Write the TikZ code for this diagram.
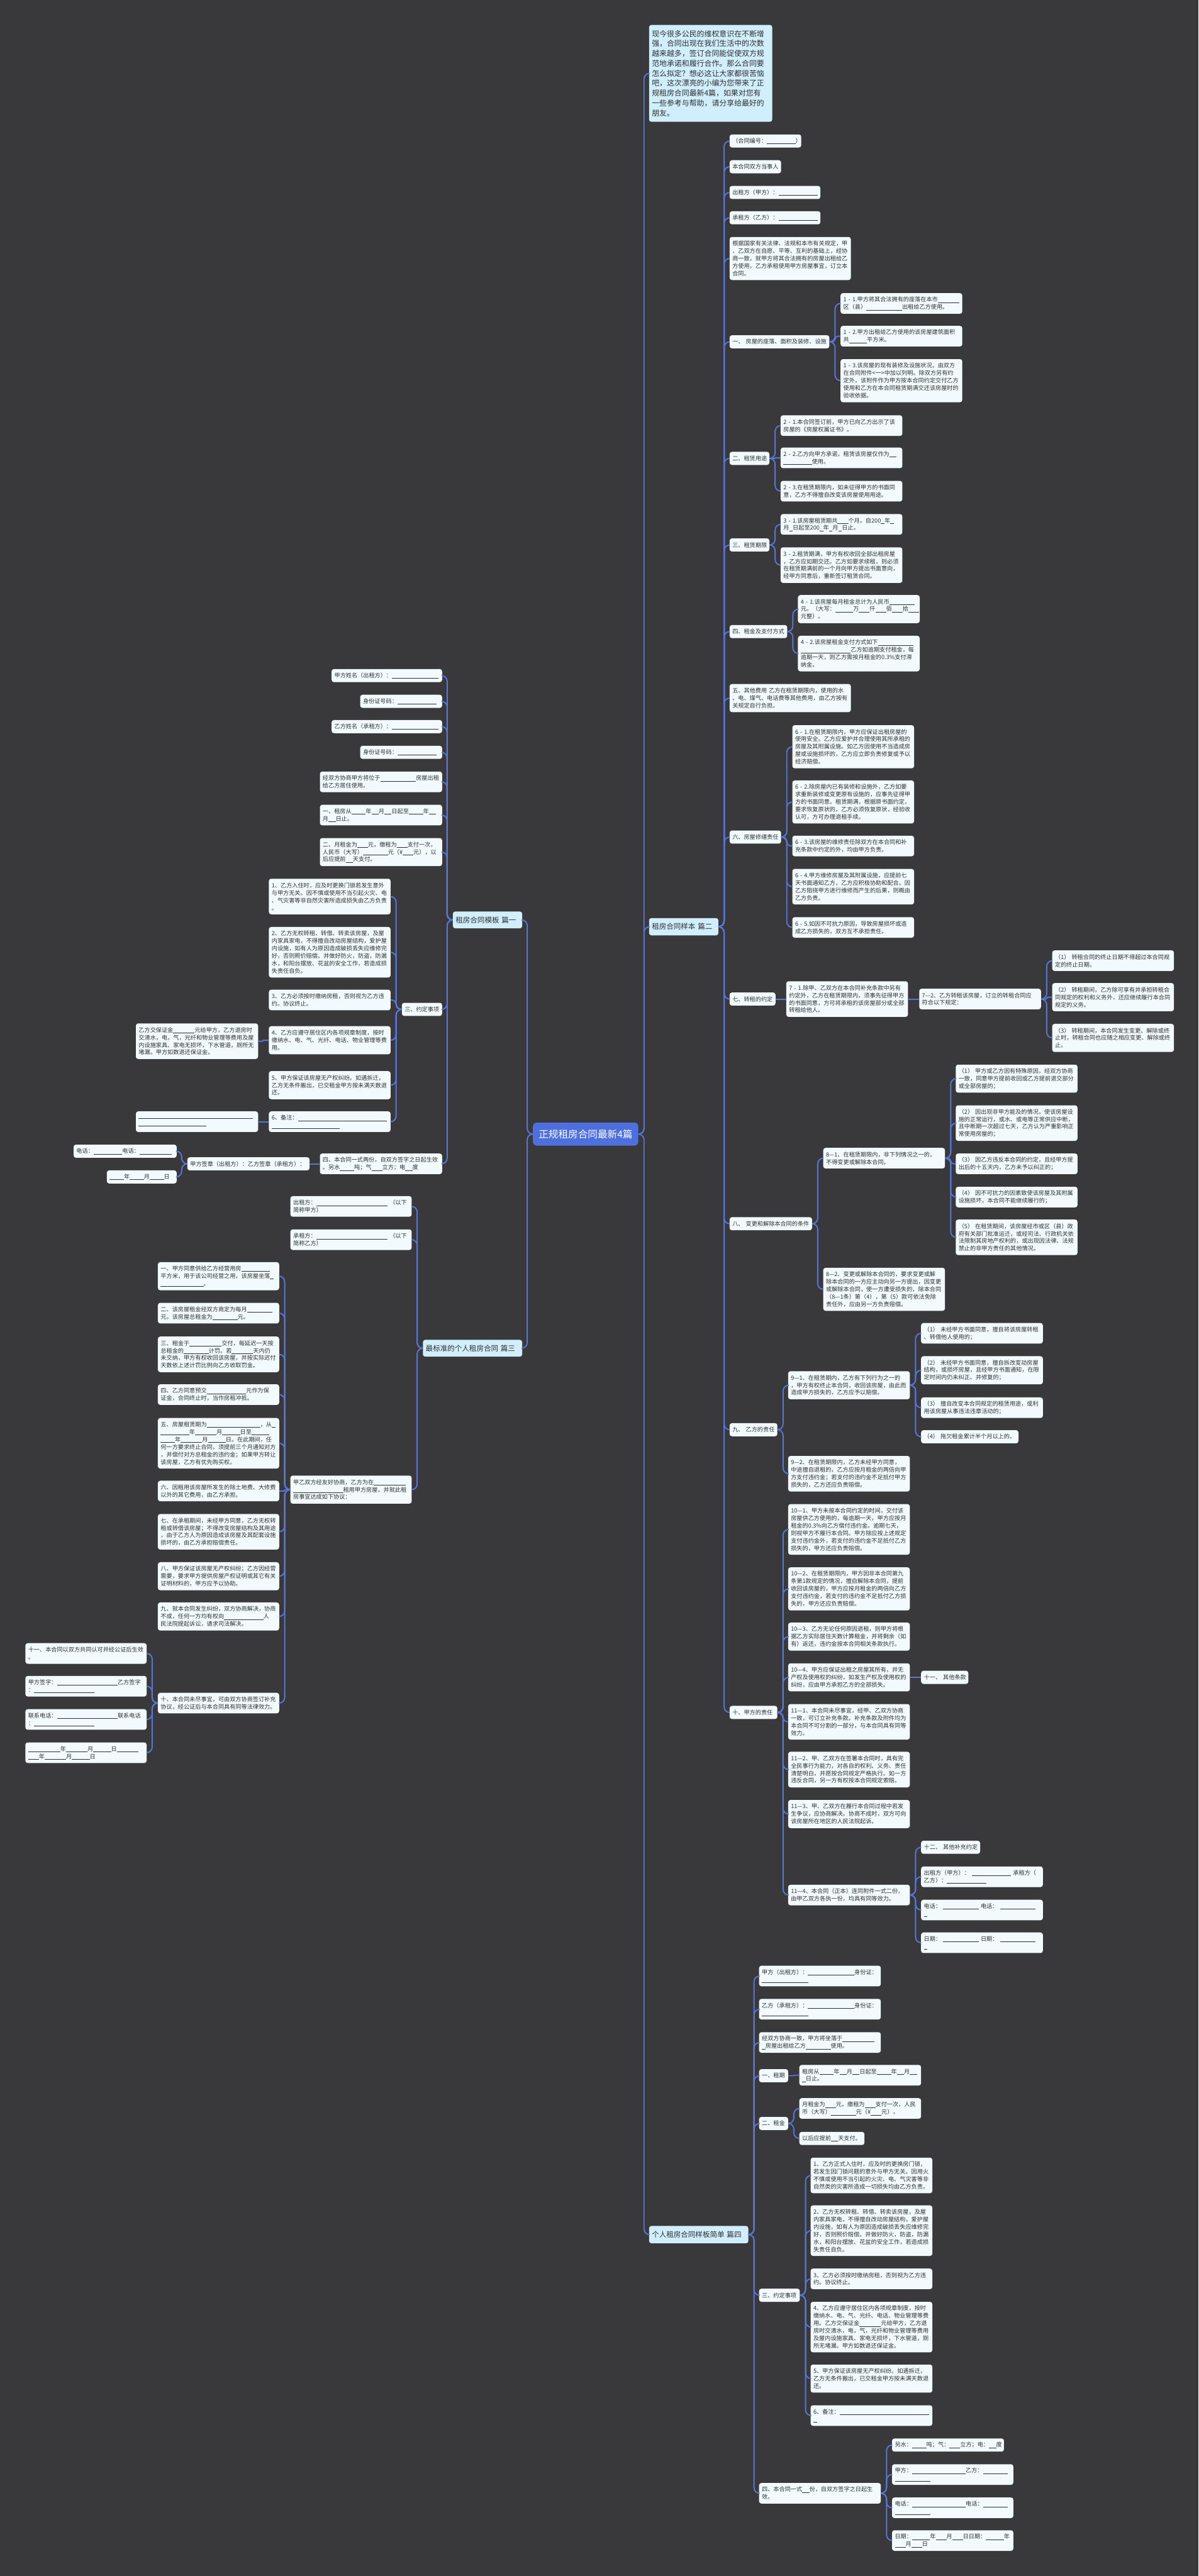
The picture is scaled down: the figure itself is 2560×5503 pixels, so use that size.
\documentclass[tikz,border=0pt]{standalone}
\usepackage{fontspec}
\setmainfont{Noto Sans CJK SC}
\usetikzlibrary{calc}
\definecolor{bgc}{RGB}{57,57,59}
\definecolor{lnc}{RGB}{88,118,216}
\definecolor{leafc}{RGB}{242,250,254}
\definecolor{lvlc}{RGB}{208,238,252}
\definecolor{cenc}{RGB}{78,111,222}
\definecolor{txtc}{RGB}{48,48,48}
\hyphenpenalty=10000 \exhyphenpenalty=10000
\tikzset{
  box/.style={rounded corners=5pt, fill=leafc, text=txtc, inner xsep=6pt, inner ysep=0pt, align=left, font=\fontsize{12.3}{16}\selectfont},
  lvl/.style={box, fill=lvlc, font=\fontsize{15.5}{20}\selectfont},
  intro/.style={box, fill=lvlc, font=\fontsize{16}{21.2}\selectfont},
  cen/.style={box, fill=cenc, text=white, rounded corners=7pt, align=center, font=\fontsize{21}{26}\selectfont},
  conn/.style={draw=lnc, line width=2.6pt},
}
\newcommand\nd[7][box]{%
  \pgfmathsetlengthmacro\ndw{#5-#3-12}%
  \pgfmathsetlengthmacro\ndh{#6-#4}%
  \node[#1,text width=\ndw,minimum height=\ndh,anchor=north west] (#2) at (#3,#4) {#7};}
\newcommand\rc[2]{\draw[conn] let \p1=(#1.east), \p2=(#2.west), \n1={min(12,abs(\y2-\y1)/2)} in [rounded corners=\n1] (\p1) -- ++(12pt,0) |- (\p2);}
\newcommand\lc[2]{\draw[conn] let \p1=(#1.west), \p2=(#2.east), \n1={min(12,abs(\y2-\y1)/2)} in [rounded corners=\n1] (\p1) -- ++(-12pt,0) |- (\p2);}
\begin{document}
{\catcode`\_=\active \gdef_{\rule[-1.8pt]{0.62em}{0.6pt}}}
\catcode`\_=\active
\begin{tikzpicture}[x=1pt,y=-1pt]
\fill[bgc] (0,0) rectangle (2560,5503);
\useasboundingbox (0,0) rectangle (2560,5503);
% central and level 1
\nd[cen]{C}{1138}{2398}{1363}{2447}{正规租房合同最新4篇}
\nd[intro]{I}{1386}{53}{1649}{260}{现今很多公民的维权意识在不断增\\强，合同出现在我们生活中的次数\\越来越多，签订合同能促使双方规\\范地承诺和履行合作。那么合同要\\怎么拟定？想必这让大家都很苦恼\\吧，这次漂亮的小编为您带来了正\\规租房合同最新4篇，如果对您有\\一些参考与帮助，请分享给最好的\\朋友。}
\nd[lvl]{P2}{1386}{1961}{1534}{1998}{租房合同样本~篇二}
\nd[lvl]{P4}{1386}{4755}{1598}{4792}{个人租房合同样板简单~篇四}
\nd[lvl]{P1}{967}{1947}{1115}{1983}{租房合同模板~篇一}
\nd[lvl]{P3}{903}{2862}{1115}{2898}{最标准的个人租房合同~篇三}
% ---------- 篇二 ----------
\nd{a1}{1558}{287}{1711}{315}{（合同编号：________）}
\nd{a2}{1558}{342}{1668}{370}{本合同双方当事人}
\nd{a3}{1558}{397}{1752}{425}{出租方（甲方）：___________}
\nd{a4}{1558}{451}{1752}{479}{承租方（乙方）：___________}
\nd{a5}{1558}{506}{1817}{598}{根据国家有关法律、法规和本市有关规定，甲\\、乙双方在自愿、平等、互利的基础上，经协\\商一致，就甲方将其合法拥有的房屋出租给乙\\方使用，乙方承租使用甲方房屋事宜，订立本\\合同。}
\nd{b1}{1558}{716}{1771}{744}{一、~房屋的座落、面积及装修、设施}
\nd{b11}{1795}{626}{2055}{670}{1~-~1.甲方将其合法拥有的座落在本市______\\区（县）__________出租给乙方使用。}
\nd{b12}{1795}{696}{2055}{740}{1~-~2.甲方出租给乙方使用的该房屋建筑面积\\共_____平方米。}
\nd{b13}{1795}{767}{2055}{859}{1~-~3.该房屋的现有装修及设施状况，由双方\\在合同附件<一>中加以列明。除双方另有约\\定外，该附件作为甲方按本合同约定交付乙方\\使用和乙方在本合同租赁期满交还该房屋时的\\验收依据。}
\nd{b2}{1558}{965}{1643}{993}{二、租赁用途}
\nd{b21}{1667}{887}{1927}{931}{2~-~1.本合同签订前，甲方已向乙方出示了该\\房屋的《房屋权属证书》。}
\nd{b22}{1667}{956}{1927}{1000}{2~-~2.乙方向甲方承诺，租赁该房屋仅作为__\\________使用。}
\nd{b23}{1667}{1027}{1927}{1071}{2~-~3.在租赁期限内，如未征得甲方的书面同\\意，乙方不得擅自改变该房屋使用用途。}
\nd{b3}{1558}{1150}{1643}{1178}{三、租赁期限}
\nd{b31}{1667}{1098}{1927}{1142}{3~-~1.该房屋租赁期共___个月。自200_年_\\月_日起至200_年_月_日止。}
\nd{b32}{1667}{1169}{1927}{1245}{3~-~2.租赁期满，甲方有权收回全部出租房屋\\，乙方应如期交还。乙方如要求续租，则必须\\在租赁期满前的一个月向甲方提出书面意向，\\经甲方同意后，重新签订租赁合同。}
\nd{b4}{1558}{1335}{1681}{1363}{四、租金及支付方式}
\nd{b41}{1704}{1271}{1964}{1331}{4~-~1.该房屋每月租金总计为人民币_______\\元。（大写：_____万___仟___佰___拾___\\元整）。}
\nd{b42}{1704}{1358}{1964}{1434}{4~-~2.该房屋租金支付方式如下__________\\______________乙方如逾期支付租金，每\\逾期一天，则乙方需按月租金的0.3\%支付滞\\纳金。}
\nd{b5}{1558}{1461}{1817}{1521}{五、其他费用~乙方在租赁期限内，使用的水\\、电、煤气、电话费等其他费用，由乙方按有\\关规定自行负担。}
\nd{b6}{1558}{1774}{1668}{1802}{六、房屋修缮责任}
\nd{b61}{1692}{1549}{1952}{1641}{6~-~1.在租赁期限内，甲方应保证出租房屋的\\使用安全。乙方应爱护并合理使用其所承租的\\房屋及其附属设施。如乙方因使用不当造成房\\屋或设施损坏的，乙方应立即负责修复或予以\\经济赔偿。}
\nd{b62}{1692}{1667}{1952}{1759}{6~-~2.除房屋内已有装修和设施外，乙方如要\\求重新装修或变更原有设施的，应事先征得甲\\方的书面同意。租赁期满，根据原书面约定，\\要求恢复原状的，乙方必须恢复原状，经验收\\认可，方可办理退租手续。}
\nd{b63}{1692}{1785}{1952}{1829}{6~-~3.该房屋的维修责任除双方在本合同和补\\充条款中约定的外，均由甲方负责。}
\nd{b64}{1692}{1856}{1952}{1932}{6~-~4.甲方维修房屋及其附属设施，应提前七\\天书面通知乙方，乙方应积极协助和配合。因\\乙方阻挠甲方进行维修而产生的后果，则概由\\乙方负责。}
\nd{b65}{1692}{1959}{1952}{2003}{6~-~5.如因不可抗力原因，导致房屋损坏或造\\成乙方损失的，双方互不承担责任。}
\nd{b7}{1558}{2120}{1656}{2148}{七、转租的约定}
\nd{b71}{1679}{2096}{1939}{2172}{7~-~1.除甲、乙双方在本合同补充条款中另有\\约定外，乙方在租赁期限内，须事先征得甲方\\的书面同意，方可将承租的该房屋部分或全部\\转租给他人。}
\nd{b72}{1963}{2112}{2223}{2156}{7—2、乙方转租该房屋，订立的转租合同应\\符合以下规定：}
\nd{b721}{2247}{2030}{2507}{2074}{（1）~转租合同的终止日期不得超过本合同规\\定的终止日期。}
\nd{b722}{2247}{2100}{2507}{2160}{（2）~转租期间，乙方除可享有并承担转租合\\同规定的权利和义务外，还应继续履行本合同\\规定的义务。}
\nd{b723}{2247}{2187}{2507}{2247}{（3）~转租期间，本合同发生变更、解除或终\\止时，转租合同也应随之相应变更、解除或终\\止。}
\nd{b8}{1558}{2600}{1734}{2628}{八、~变更和解除本合同的条件}
\nd{b81}{1758}{2452}{2018}{2496}{8—1、在租赁期限内，非下列情况之一的，\\不得变更或解除本合同。}
\nd{b811}{2041}{2274}{2301}{2334}{（1）~甲方或乙方因有特殊原因，经双方协商\\一致，同意甲方提前收回或乙方提前退交部分\\或全部房屋的；}
\nd{b812}{2041}{2361}{2301}{2437}{（2）~因出现非甲方能及的情况，使该房屋设\\施的正常运行，或水、或电等正常供应中断，\\且中断期一次超过七天，乙方认为严重影响正\\常使用房屋的；}
\nd{b813}{2041}{2464}{2301}{2508}{（3）~因乙方违反本合同的约定，且经甲方提\\出后的十五天内，乙方未予以纠正的；}
\nd{b814}{2041}{2535}{2301}{2579}{（4）~因不可抗力的因素致使该房屋及其附属\\设施损坏，本合同不能继续履行的；}
\nd{b815}{2041}{2605}{2301}{2681}{（5）~在租赁期间，该房屋经市或区（县）政\\府有关部门批准运迁，或经司法、行政机关依\\法限制其房地产权利的，或出现因法律、法规\\禁止的非甲方责任的其他情况。}
\nd{b82}{1758}{2708}{2018}{2800}{8—2、变更或解除本合同的，要求变更或解\\除本合同的一方应主动向另一方提出，因变更\\或解除本合同，使一方遭受损失的，除本合同\\（8—1条）第（4），第（5）款可依法免除\\责任外，应由另一方负责赔偿。}
\nd{b9}{1558}{3040}{1660}{3068}{九、~乙方的责任}
\nd{b91}{1683}{2929}{1943}{2989}{9—1、在租赁期内，乙方有下列行为之一的\\，甲方有权终止本合同，收回该房屋，由此而\\造成甲方损失的，乙方应予以赔偿。}
\nd{b911}{1967}{2826}{2227}{2870}{（1）~未经甲方书面同意，擅自将该房屋转租\\、转借他人使用的；}
\nd{b912}{1967}{2897}{2227}{2957}{（2）~未经甲方书面同意，擅自拆改变动房屋\\结构，或损坏房屋，且经甲方书面通知，在限\\定时间内仍未纠正、并修复的；}
\nd{b913}{1967}{2985}{2227}{3029}{（3）~擅自改变本合同规定的租赁用途，或利\\用该房屋从事违法违章活动的；}
\nd{b914}{1967}{3055}{2175}{3083}{（4）~拖欠租金累计半个月以上的。}
\nd{b92}{1683}{3110}{1943}{3186}{9—2、在租赁期限内，乙方未经甲方同意，\\中途擅自退租的，乙方应按月租金的两倍向甲\\方支付违约金；若支付的违约金不足抵付甲方\\损失的，乙方还应负责赔偿。}
\nd{b10}{1558}{3644}{1660}{3672}{十、甲方的责任}
\nd{c1}{1683}{3213}{1943}{3321}{10—1、甲方未按本合同约定的时间，交付该\\房屋供乙方使用的，每逾期一天，甲方应按月\\租金的0.3\%向乙方偿付违约金。逾期七天，\\则视甲方不履行本合同。甲方除应按上述规定\\支付违约金外，若支付的违约金不足抵付乙方\\损失的，甲方还应负责赔偿。}
\nd{c2}{1683}{3348}{1943}{3440}{10—2、在租赁期限内，甲方因非本合同第九\\条第1款规定的情况，擅自解除本合同，提前\\收回该房屋的，甲方应按月租金的两倍向乙方\\支付违约金，若支付的违约金不足抵付乙方损\\失的，甲方还应负责赔偿。}
\nd{c3}{1683}{3466}{1943}{3526}{10—3、乙方无论任何原因退租，则甲方将根\\据乙方实际居住天数计算租金，并将剩余（如\\有）返还，违约金按本合同相关条款执行。}
\nd{c4}{1683}{3553}{1943}{3613}{10—4、甲方应保证出租之房屋其所有，并无\\产权及使用权的纠纷，如发生产权及使用权的\\纠纷，应由甲方承担乙方的全部损失。}
\nd{c41}{1967}{3569}{2068}{3597}{十一、~其他条款}
\nd{c5}{1683}{3640}{1943}{3716}{11—1、本合同未尽事宜，经甲、乙双方协商\\一致，可订立补充条款。补充条款及附件均为\\本合同不可分割的一部分，与本合同具有同等\\效力。}
\nd{c6}{1683}{3742}{1943}{3818}{11—2、甲、乙双方在签署本合同时，具有完\\全民事行为能力，对各自的权利、义务、责任\\清楚明白，并愿按合同规定严格执行。如一方\\违反合同，另一方有权按本合同规定索赔。}
\nd{c7}{1683}{3845}{1943}{3905}{11—3、甲、乙双方在履行本合同过程中若发\\生争议，应协商解决。协商不成时，双方可向\\该房屋所在地区的人民法院起诉。}
\nd{c8}{1683}{4026}{1943}{4070}{11—4、本合同（正本）连同附件一式二份，\\由甲乙双方各执一份，均具有同等效力。}
\nd{c81}{1967}{3932}{2093}{3960}{十二、~其他补充约定}
\nd{c82}{1967}{3987}{2227}{4031}{出租方（甲方）：~___________~承租方（\\乙方）：___________}
\nd{c83}{1967}{4058}{2227}{4102}{电话：~__________~电话：~__________\\_}
\nd{c84}{1967}{4128}{2227}{4172}{日期：~__________~日期：~__________\\_}
% ---------- 篇四 ----------
\nd{d1}{1621}{4199}{1881}{4243}{甲方（出租方）：_____________身份证：\\_____________}
\nd{d2}{1621}{4270}{1881}{4314}{乙方（承租方）：_____________身份证：\\_____________}
\nd{d3}{1621}{4341}{1881}{4385}{经双方协商一致，甲方将坐落于_________\\_房屋出租给乙方_______使用。}
\nd{d4}{1621}{4420}{1683}{4448}{一、租期}
\nd{d41}{1707}{4411}{1967}{4455}{租房从____年__月__日起至____年__月__\\_日止。}
\nd{d5}{1621}{4522}{1683}{4550}{二、租金}
\nd{d51}{1707}{4482}{1967}{4526}{月租金为___元，缴租为___支付一次，人民\\币（大写）_______元（¥___元），}
\nd{d52}{1707}{4554}{1846}{4582}{以后应提前__天支付。}
\nd{d6}{1621}{4889}{1708}{4917}{三、约定事项}
\nd{d61}{1731}{4609}{1991}{4685}{1、乙方正式入住时，应及时的更换房门锁，\\若发生因门锁问题的意外与甲方无关。因用火\\不慎或使用不当引起的火灾、电、气灾害等非\\自然类的灾害所造成一切损失均由乙方负责。}
\nd{d62}{1731}{4711}{1991}{4819}{2、乙方无权转租、转借、转卖该房屋，及屋\\内家具家电，不得擅自改动房屋结构，爱护屋\\内设施，如有人为原因造成破损丢失应维修完\\好，否则照价赔偿。并做好防火，防盗，防漏\\水，和阳台摆放、花盆的安全工作，若造成损\\失责任自负。}
\nd{d63}{1731}{4846}{1991}{4890}{3、乙方必须按时缴纳房租，否则视为乙方违\\约。协议终止。}
\nd{d64}{1731}{4917}{1991}{5025}{4、乙方应遵守居住区内各项规章制度，按时\\缴纳水、电、气、光纤、电话、物业管理等费\\用。乙方交保证金______元给甲方，乙方退\\房时交清水，电，气，光纤和物业管理等费用\\及屋内设施家具、家电无损坏，下水管道，厕\\所无堵漏。甲方如数退还保证金。}
\nd{d65}{1731}{5051}{1991}{5111}{5、甲方保证该房屋无产权纠纷。如遇拆迁，\\乙方无条件搬出，已交租金甲方按未满天数退\\还。}
\nd{d66}{1731}{5138}{1991}{5182}{6、备注：_________________________\\_}
\nd{d7}{1621}{5304}{1881}{5348}{四、本合同一式__份，自双方签字之日起生\\效。}
\nd{d71}{1905}{5209}{2144}{5237}{另水：____吨；气：___立方；电：__度}
\nd{d72}{1905}{5264}{2164}{5308}{甲方：_______________乙方：_______\\__________}
\nd{d73}{1905}{5335}{2164}{5379}{电话：_______________电话：_______\\__________}
\nd{d74}{1905}{5405}{2164}{5449}{日期：_____年___月___日日期：_____年\\___月___日}
% ---------- 篇一 ----------
\nd{e1}{708}{1429}{944}{1457}{甲方姓名（出租方）：_____________}
\nd{e2}{769}{1484}{944}{1512}{身份证号码：___________}
\nd{e3}{708}{1538}{944}{1566}{乙方姓名（承租方）：_____________}
\nd{e4}{769}{1593}{944}{1621}{身份证号码：___________}
\nd{e5}{683}{1648}{944}{1692}{经双方协商甲方将位于__________房屋出租\\给乙方居住使用。}
\nd{e6}{683}{1719}{944}{1763}{一、租房从____年__月__日起至____年__\\月__日止。}
\nd{e7}{683}{1790}{944}{1850}{二、月租金为___元，缴租为___支付一次，\\人民币（大写）_______元（¥___元），以\\后应提前__天支付。}
\nd{e8}{858}{2142}{944}{2170}{三、约定事项}
\nd{e81}{574}{1877}{834}{1953}{1、乙方入住时，应及时更换门锁若发生意外\\与甲方无关。因不慎或使用不当引起火灾、电\\、气灾害等非自然灾害所造成损失由乙方负责\\。}
\nd{e82}{574}{1980}{834}{2088}{2、乙方无权转租、转借、转卖该房屋，及屋\\内家具家电，不得擅自改动房屋结构，爱护屋\\内设施，如有人为原因造成破损丢失应维修完\\好，否则照价赔偿。并做好防火，防盗，防漏\\水，和阳台摆放、花盆的安全工作，若造成损\\失责任自负。}
\nd{e83}{574}{2114}{834}{2158}{3、乙方必须按时缴纳房租，否则视为乙方违\\约。协议终止。}
\nd{e84}{574}{2192}{834}{2252}{4、乙方应遵守居住区内各项规章制度，按时\\缴纳水、电、气、光纤、电话、物业管理等费\\用。}
\nd{e841}{290}{2186}{551}{2262}{乙方交保证金______元给甲方，乙方退房时\\交清水，电，气，光纤和物业管理等费用及屋\\内设施家具、家电无损坏，下水管道，厕所无\\堵漏。甲方如数退还保证金。}
\nd{e85}{574}{2288}{834}{2348}{5、甲方保证该房屋无产权纠纷。如遇拆迁，\\乙方无条件搬出，已交租金甲方按未满天数退\\还。}
\nd{e86}{574}{2374}{834}{2418}{6、备注：_________________________\\___________________}
\nd{e861}{290}{2374}{551}{2418}{________________________________\\___________________}
\nd{e9}{683}{2464}{944}{2508}{四、本合同一式两份，自双方签字之日起生效\\。另水____吨；气___立方；电__度}
\nd{e91}{400}{2472}{661}{2500}{甲方签章（出租方）：乙方签章（承租方）：}
\nd{e911}{157}{2445}{377}{2473}{电话：________电话：_________}
\nd{e912}{228}{2500}{377}{2528}{____年____月____日}
% ---------- 篇三 ----------
\nd{f1}{620}{2555}{879}{2599}{出租方：____________________~（以下\\简称甲方）}
\nd{f2}{620}{2626}{879}{2670}{承租方：____________________~（以下\\简称乙方）}
\nd{f3}{620}{3152}{879}{3212}{甲乙双方经友好协商，乙方为在_________\\______________租用甲方房屋，并就此租\\房事宜达成如下协议：}
\nd{f31}{337}{2696}{596}{2756}{一、甲方同意供给乙方经营用房________\\平方米，用于该公司经营之用，该房屋坐落_\\____________。}
\nd{f32}{337}{2783}{596}{2827}{二、该房屋租金经双方商定为每月_______\\元。该房屋总租金为_______元。}
\nd{f33}{337}{2855}{596}{2931}{三、租金于_________交付，每延迟一天按\\总租金的_______计罚。若______天内仍\\未交纳，甲方有权收回该房屋，并按实际迟付\\天数依上述计罚比例向乙方收取罚金。}
\nd{f34}{337}{2957}{596}{3001}{四、乙方同意预交___________元作为保\\证金，合同终止时，当作房租冲抵。}
\nd{f35}{337}{3029}{596}{3137}{五、房屋租赁期为_______________，从_\\________年______月_____日至_____\\____年______月_____日。在此期间，任\\何一方要求终止合同，须提前三个月通知对方\\，并偿付对方总租金的违约金；如果甲方转让\\该房屋，乙方有优先购买权。}
\nd{f36}{337}{3163}{596}{3207}{六、因租用该房屋所发生的除土地费、大修费\\以外的其它费用，由乙方承担。}
\nd{f37}{337}{3234}{596}{3310}{七、在承租期间，未经甲方同意，乙方无权转\\租或转借该房屋；不得改变房屋结构及其用途\\，由于乙方人为原因造成该房屋及其配套设施\\损坏的，由乙方承担赔偿责任。}
\nd{f38}{337}{3337}{596}{3397}{八、甲方保证该房屋无产权纠纷；乙方因经营\\需要，要求甲方提供房屋产权证明或其它有关\\证明材料的，甲方应予以协助。}
\nd{f39}{337}{3423}{596}{3483}{九、就本合同发生纠纷，双方协商解决，协商\\不成，任何一方均有权向___________人\\民法院提起诉讼，请求司法解决。}
\nd{f3a}{337}{3616}{596}{3660}{十、本合同未尽事宜，可由双方协商签订补充\\协议，经公证后与本合同具有同等法律效力。}
\nd{f3a1}{54}{3510}{313}{3554}{十一、本合同以双方共同认可并经公证后生效\\。}
\nd{f3a2}{54}{3580}{313}{3624}{甲方签字：_________________乙方签字\\：_________________}
\nd{f3a3}{54}{3651}{313}{3695}{联系电话：_________________联系电话\\：_________________}
\nd{f3a4}{54}{3722}{313}{3766}{_________年______月_____日______\\___年______月_____日}
% ---------- connectors ----------
\rc{C}{I} \rc{C}{P2} \rc{C}{P4} \lc{C}{P1} \lc{C}{P3}
\foreach \k in {a1,a2,a3,a4,a5,b1,b2,b3,b4,b5,b6,b7,b8,b9,b10} {\rc{P2}{\k}}
\foreach \k in {b11,b12,b13} {\rc{b1}{\k}}
\foreach \k in {b21,b22,b23} {\rc{b2}{\k}}
\foreach \k in {b31,b32} {\rc{b3}{\k}}
\foreach \k in {b41,b42} {\rc{b4}{\k}}
\foreach \k in {b61,b62,b63,b64,b65} {\rc{b6}{\k}}
\rc{b7}{b71} \rc{b71}{b72}
\foreach \k in {b721,b722,b723} {\rc{b72}{\k}}
\foreach \k in {b81,b82} {\rc{b8}{\k}}
\foreach \k in {b811,b812,b813,b814,b815} {\rc{b81}{\k}}
\foreach \k in {b91,b92} {\rc{b9}{\k}}
\foreach \k in {b911,b912,b913,b914} {\rc{b91}{\k}}
\foreach \k in {c1,c2,c3,c4,c5,c6,c7,c8} {\rc{b10}{\k}}
\rc{c4}{c41}
\foreach \k in {c81,c82,c83,c84} {\rc{c8}{\k}}
\foreach \k in {d1,d2,d3,d4,d5,d6,d7} {\rc{P4}{\k}}
\rc{d4}{d41}
\foreach \k in {d51,d52} {\rc{d5}{\k}}
\foreach \k in {d61,d62,d63,d64,d65,d66} {\rc{d6}{\k}}
\foreach \k in {d71,d72,d73,d74} {\rc{d7}{\k}}
\foreach \k in {e1,e2,e3,e4,e5,e6,e7,e8,e9} {\lc{P1}{\k}}
\foreach \k in {e81,e82,e83,e84,e85,e86} {\lc{e8}{\k}}
\lc{e84}{e841} \lc{e86}{e861} \lc{e9}{e91}
\foreach \k in {e911,e912} {\lc{e91}{\k}}
\foreach \k in {f1,f2,f3} {\lc{P3}{\k}}
\foreach \k in {f31,f32,f33,f34,f35,f36,f37,f38,f39,f3a} {\lc{f3}{\k}}
\foreach \k in {f3a1,f3a2,f3a3,f3a4} {\lc{f3a}{\k}}
\end{tikzpicture}
\end{document}
